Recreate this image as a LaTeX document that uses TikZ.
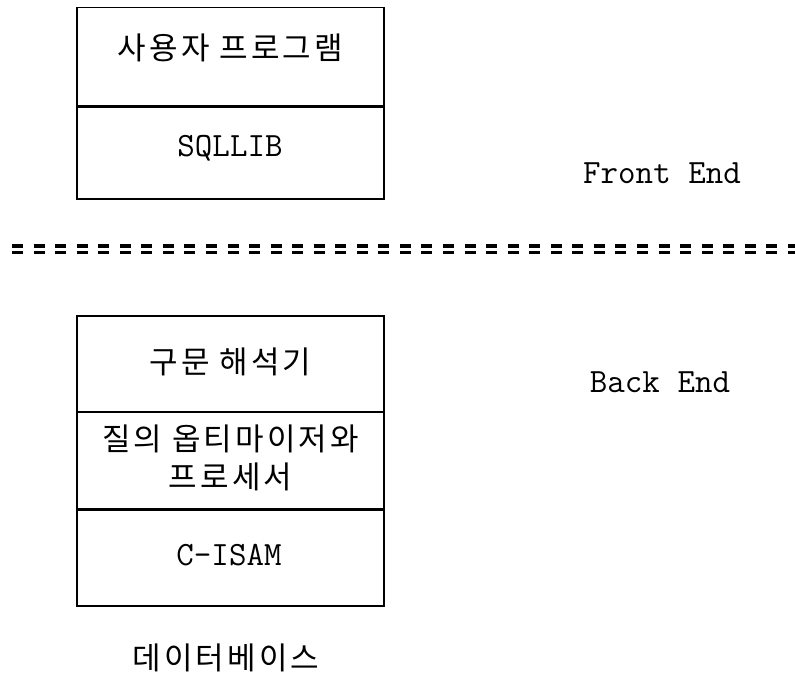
\documentclass[tikz,border=0pt]{standalone}
\usepackage{fontspec}
\newfontfamily\krfont{Noto Sans CJK KR}[LetterSpace=10]
\begin{document}
\begin{tikzpicture}[x=1pt,y=-1pt,
  cell/.style={draw, line width=1.5pt, minimum width=307pt, inner sep=0pt, anchor=north west},
  divider/.style={line width=3.5pt},
  kr/.style={font=\krfont\fontsize{31}{38}\selectfont, anchor=base, inner sep=0pt, align=center},
  lat/.style={font=\ttfamily\fontsize{34}{38}\selectfont, anchor=base, inner sep=0pt},
  dashline/.style={line width=3.5pt, dash pattern=on 11pt off 10.55pt}]
\useasboundingbox (0,0) rectangle (795,677);
% front end stack
\node[cell, minimum height=98pt] (prog) at (76,7) {};
\node[cell, minimum height=93pt] (sqllib) at (76,105) {};
\draw[divider] (prog.south west) -- (prog.south east);
% back end stack
\node[cell, minimum height=96pt] (parser) at (76,315) {};
\node[cell, minimum height=97pt] (opt) at (76,411) {};
\node[cell, minimum height=97pt] (cisam) at (76,508) {};
\draw[divider] (opt.south west) -- (opt.south east);
% texts
\node[kr] (tprog) at (230.5,59.5) {사용자 프로그램};
\node[lat] (tsql) at (230,156) {SQLLIB};
\node[lat] (tfront) at (662,183) {Front End};
\node[kr] (tparser) at (230.5,373) {구문 해석기};
\node[kr] (topt) at (230.5,488) {질의 옵티마이저와\\프로세서};
\node[lat] (tcisam) at (229,565) {C-ISAM};
\node[lat] (tback) at (660,392) {Back End};
\node[kr] (tdb) at (226,669) {데이터베이스};
% double dashed separator
\coordinate (dla) at (12,246);
\coordinate (dra) at (795,246);
\coordinate (dlb) at (12,252.7);
\coordinate (drb) at (795,252.7);
\draw[dashline] (dla) -- (dra);
\draw[dashline] (dlb) -- (drb);
\end{tikzpicture}
\end{document}
